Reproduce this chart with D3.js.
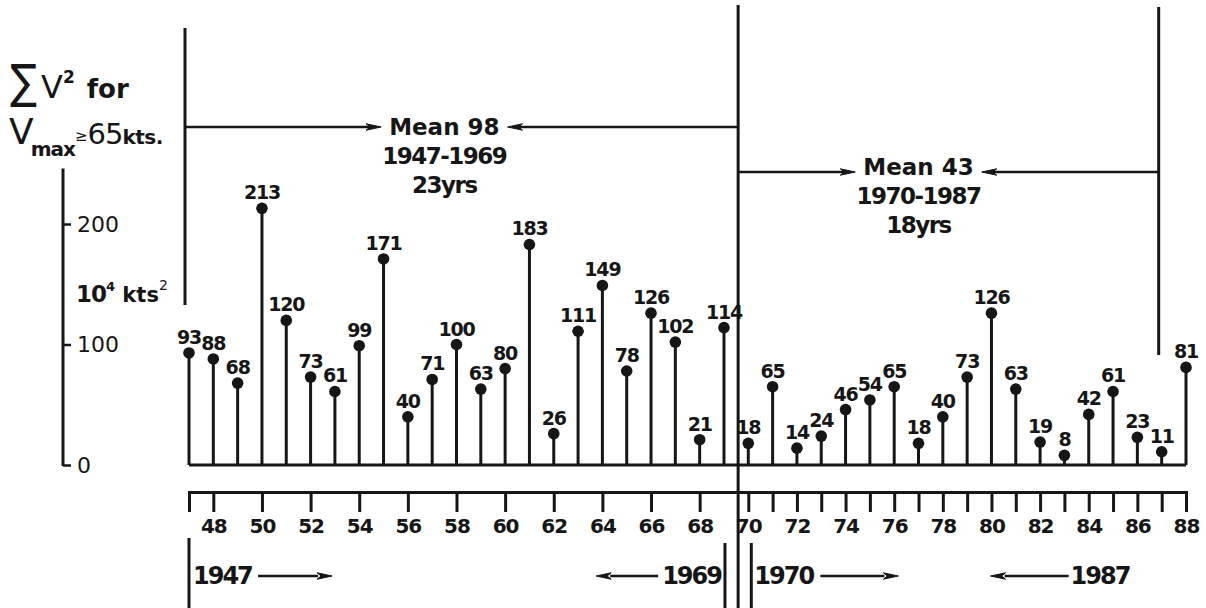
<!DOCTYPE html>
<html><head><meta charset="utf-8">
<script src="https://cdn.jsdelivr.net/npm/d3@7"></script>
<style>body{margin:0;background:#fff}svg{display:block;background:#fff}</style>
</head><body><svg id="c" width="1206" height="608"></svg>
<script>
// ---- data ----
const years = [1947,1948,1949,1950,1951,1952,1953,1954,1955,1956,1957,1958,1959,1960,1961,1962,1963,1964,1965,1966,1967,1968,1969,
               1970,1971,1972,1973,1974,1975,1976,1977,1978,1979,1980,1981,1982,1983,1984,1985,1986,1987,1988];
const values = [93,88,68,213,120,73,61,99,171,40,71,100,63,80,183,26,111,149,78,126,102,21,114,
                18,65,14,24,46,54,65,18,40,73,126,63,19,8,42,61,23,11,81];
const yTickValues = [0,100,200];
const rulerTicksEarly = [1948,1950,1952,1954,1956,1958,1960,1962,1964,1966,1968];
const rulerTicksLate = [1970,1971,1972,1973,1974,1975,1976,1977,1978,1979,1980,1981,1982,1983,1984,1985,1986,1987,1988];
const meanLabels = ["Mean 98","Mean 43"];
const spanLabels = ["1947-1969","1970-1987"];
const lengthLabels = ["23yrs","18yrs"];
const bracketYears = ["1947","1969","1970","1987"];

// ---- setup ----
const svg = d3.select("#c");
const ink = "#161616";
const F = "DejaVu Sans";
const x = d3.scaleLinear().domain([1947,1988]).range([189,1186]);
const y = d3.scaleLinear().domain([0,200]).range([465,224]);

function arrowHead(g, tipX, yy, dir){
  g.append("path")
   .attr("d", `M${tipX},${yy} L${tipX-dir*15},${yy-3.2} L${tipX-dir*11},${yy} L${tipX-dir*15},${yy+3.2} Z`)
   .attr("fill", ink).attr("stroke", ink).attr("stroke-width", 1);
}
function hline(x1,x2,yy,w){ svg.append("line").attr("x1",x1).attr("x2",x2).attr("y1",yy).attr("y2",yy).attr("stroke",ink).attr("stroke-width",w||2.5); }
function vline(xx,y1,y2,w){ svg.append("line").attr("x1",xx).attr("x2",xx).attr("y1",y1).attr("y2",y2).attr("stroke",ink).attr("stroke-width",w||2.5); }

// ---- baseline & stems ----
hline(x(1947), x(1988), y(0), 3);
const data = years.map((yr,i)=>({yr, v: values[i]}));
svg.append("g").selectAll("line").data(data).join("line")
  .attr("x1", d=>x(d.yr)).attr("x2", d=>x(d.yr))
  .attr("y1", y(0)).attr("y2", d=>y(d.v))
  .attr("stroke", ink).attr("stroke-width", 3);
svg.append("g").selectAll("circle").data(data).join("circle")
  .attr("cx", d=>x(d.yr)).attr("cy", d=>y(d.v)).attr("r", 5.8).attr("fill", ink);
svg.append("g").selectAll("text").data(data).join("text")
  .attr("x", d=>x(d.yr)).attr("y", d=>y(d.v)-9)
  .attr("text-anchor","middle").attr("font-family",F).attr("font-weight","bold")
  .attr("font-size",19).attr("letter-spacing",-1.2).attr("fill",ink)
  .text(d=>d.v);

// ---- y axis ----
const gY = svg.append("g").attr("transform","translate(63,0)")
  .call(d3.axisRight(y).tickValues(yTickValues).tickSize(8).tickPadding(6).tickSizeOuter(0));
gY.select(".domain").remove();
gY.selectAll(".tick line").attr("stroke",ink).attr("stroke-width",2.5);
gY.selectAll(".tick text").attr("font-family",F).attr("font-size",22).attr("fill",ink);
gY.append("line").attr("x1",0).attr("x2",0).attr("y1",y(0)+1).attr("y2",y(246)).attr("stroke",ink).attr("stroke-width",3);

// y title
svg.append("text").attr("transform","translate(10,98) scale(1,1.18)")
  .attr("font-family",F).attr("font-size",40).attr("fill",ink).text("∑");
const t1 = svg.append("text").attr("x",41).attr("y",98).attr("font-family",F).attr("fill",ink);
t1.append("tspan").attr("font-size",32).text("V");
t1.append("tspan").attr("font-size",17).attr("font-weight","bold").attr("dy",-15).text("2");
t1.append("tspan").attr("font-size",26).attr("font-weight","bold").attr("dy",15).attr("dx",12).text("for");
const t2 = svg.append("text").attr("x",9).attr("y",144).attr("font-family",F).attr("fill",ink);
t2.append("tspan").attr("font-size",36).text("V");
t2.append("tspan").attr("font-size",20).attr("font-weight","bold").attr("dy",12).attr("dx",-3).attr("letter-spacing",-1).text("max");
t2.append("tspan").attr("font-size",15).attr("dy",-15).text("≥");
t2.append("tspan").attr("font-size",29).attr("dy",3).attr("letter-spacing",-1).text("65");
t2.append("tspan").attr("font-size",20).attr("font-weight","bold").attr("letter-spacing",-0.5).text("kts.");
const t3 = svg.append("text").attr("x",76).attr("y",302).attr("font-family",F).attr("fill",ink).attr("font-weight","bold");
t3.append("tspan").attr("font-size",23).attr("letter-spacing",-1).text("10");
t3.append("tspan").attr("font-size",13).attr("dy",-11).text("4");
t3.append("tspan").attr("font-size",21).attr("dy",11).text(" kts");
t3.append("tspan").attr("font-size",14).attr("font-weight","normal").attr("dy",-12).text("2");

// ---- bottom ruler ----
const gX = svg.append("g").attr("transform","translate(0,492)")
  .call(d3.axisBottom(x).tickValues(rulerTicksEarly.concat(rulerTicksLate))
        .tickSize(20).tickSizeOuter(20).tickPadding(7)
        .tickFormat(d => d%2===0 ? String(d).slice(2) : ""));
gX.select(".domain").attr("stroke",ink).attr("stroke-width",3).attr("fill","none");
gX.selectAll(".tick line").attr("stroke",ink).attr("stroke-width",3);
gX.selectAll(".tick text").attr("font-family",F).attr("font-weight","bold").attr("font-size",20)
  .attr("letter-spacing",-1).attr("fill",ink);

// ---- divider ----
const xDiv = x(1969.5) + 2;
vline(xDiv, 5, 608, 3);

// ---- period annotations ----
const periods = [
  {c: x(1957.5), yLine: 127, yMean: 135, ySpan: 164, yLen: 193, left: x(1947)-4, right: xDiv},
  {c: x(1977),   yLine: 172, yMean: 175, ySpan: 204, yLen: 233, left: xDiv, right: x(1987)-3}
];
periods.forEach((p,i)=>{
  const tm = svg.append("text").attr("x",p.c).attr("y",p.yMean).attr("text-anchor","middle")
    .attr("font-family",F).attr("font-weight","bold").attr("font-size",23).attr("fill",ink).text(meanLabels[i]);
  svg.append("text").attr("x",p.c).attr("y",p.ySpan).attr("text-anchor","middle")
    .attr("font-family",F).attr("font-weight","bold").attr("font-size",23).attr("letter-spacing",-1.5).attr("fill",ink).text(spanLabels[i]);
  svg.append("text").attr("x",p.c).attr("y",p.yLen).attr("text-anchor","middle")
    .attr("font-family",F).attr("font-weight","bold").attr("font-size",23).attr("letter-spacing",-1.5).attr("fill",ink).text(lengthLabels[i]);
  const bb = tm.node().getBBox();
  const tipL = bb.x - 8, tipR = bb.x + bb.width + 8;
  hline(p.left, tipL - 11, p.yLine, 2.5);
  hline(tipR + 11, p.right, p.yLine, 2.5);
  arrowHead(svg, tipL, p.yLine, 1);
  arrowHead(svg, tipR, p.yLine, -1);
});
// bracket verticals at top
vline(x(1947)-4, 28, 305, 3);
vline(x(1987)-3, 7, 355, 3);

// ---- bottom year brackets ----
const yb = 584, ya = 576;
vline(x(1947), 538, 608, 3);
vline(x(1969)+1, 543, 608, 3);
vline(x(1970)+3, 543, 608, 3);
function bracketText(str, xx, anchor){
  return svg.append("text").attr("x",xx).attr("y",yb).attr("text-anchor",anchor)
    .attr("font-family",F).attr("font-weight","bold").attr("font-size",24).attr("letter-spacing",-2).attr("fill",ink).text(str);
}
const b1 = bracketText(bracketYears[0], x(1947)+4, "start").node().getBBox();
hline(b1.x+b1.width+6, b1.x+b1.width+66, ya, 2.5); arrowHead(svg, b1.x+b1.width+80, ya, 1);
const b2 = bracketText(bracketYears[1], x(1969)-3, "end").node().getBBox();
hline(b2.x-4, b2.x-52, ya, 2.5); arrowHead(svg, b2.x-66, ya, -1);
const b3 = bracketText(bracketYears[2], x(1970)+6, "start").node().getBBox();
hline(b3.x+b3.width+6, b3.x+b3.width+70, ya, 2.5); arrowHead(svg, b3.x+b3.width+84, ya, 1);
const b4 = bracketText(bracketYears[3], x(1986)-8, "end").node().getBBox();
hline(b4.x-2, b4.x-66, ya, 2.5); arrowHead(svg, b4.x-80, ya, -1);
</script></body></html>
